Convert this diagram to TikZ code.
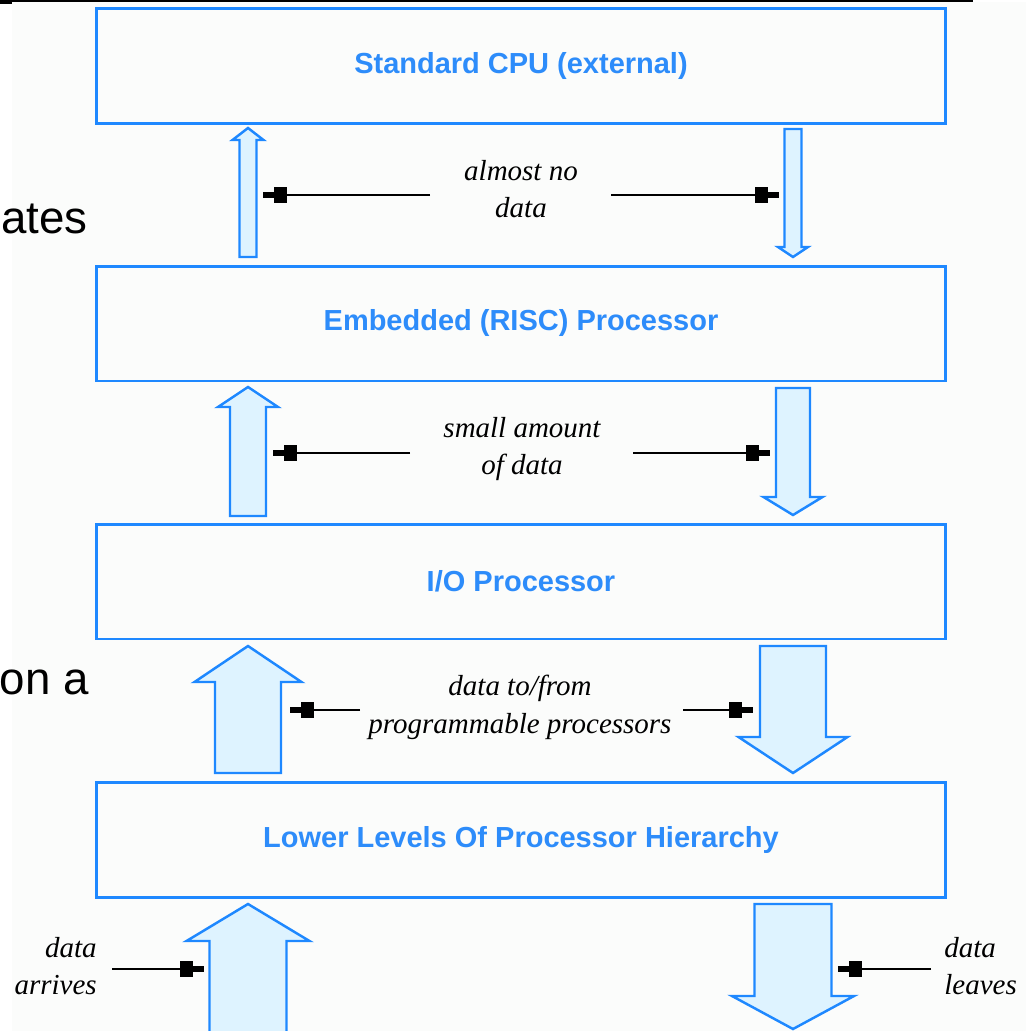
\documentclass[tikz,border=0pt]{standalone}
\usepackage{fontspec}
\setmainfont{Liberation Serif}
\setsansfont{Liberation Sans}
\usepackage{tikz}
\usetikzlibrary{arrows.meta}
\definecolor{boxBlue}{RGB}{30,136,255}
\definecolor{textBlue}{RGB}{45,140,250}
\definecolor{arrowFill}{RGB}{222,243,255}
\definecolor{paperGrey}{RGB}{251,252,251}
\newcommand{\bigflow}[6]{%
  \draw[flow] (#1-#5,#4) -- (#1-#5,#3) -- (#1-#6,#3) -- (#1,#2) -- (#1+#6,#3) -- (#1+#5,#3) -- (#1+#5,#4) -- cycle;}

\begin{document}
\begin{tikzpicture}[x=0.02cm, y=-0.02cm,
    layer/.style={draw=boxBlue, line width=1.7pt, minimum width=17cm, minimum height=2.3cm,
      text=textBlue, font={\sffamily\bfseries\fontsize{16.5}{20}\selectfont}},
    note/.style={font={\itshape\fontsize{16.5}{21.5}\selectfont}, align=center, inner sep=0pt},
    flow/.style={draw=boxBlue, line width=1.4pt, fill=arrowFill, line join=miter},
    feed/.style={line width=1.1pt, -{Rectangle[length=7pt,width=9pt] Rectangle[length=6.5pt,width=3.6pt]}}]
        \useasboundingbox (0,0) rectangle (1026,1031);
        \clip (0,0) rectangle (1026,1031);
        \fill[paperGrey] (12,2) rectangle (1026,1031);

        \node[layer] (cpu) at (521,66) {Standard CPU (external)};
        \node[layer] (risc) at (521,323.5) {Embedded (RISC) Processor};
        \node[layer] (io) at (521,581.5) {I/O Processor};
        \node[layer] (low) at (521,840) {Lower Levels Of Processor Hierarchy};

        \bigflow{248}{128}{140}{257}{8.5}{15.5}
        \bigflow{793}{257}{247}{129}{8.5}{15}
        \bigflow{248}{387}{407}{516}{18}{30}
        \bigflow{793}{515}{497}{388}{17}{29.5}
        \bigflow{248}{646}{682}{773}{33}{53.5}
        \bigflow{793}{773}{737}{646}{33}{54.5}
        \bigflow{248}{904}{941}{1040}{38.5}{61.5}
        \bigflow{793}{1029}{996}{904}{38.5}{61}

        \node[note] (noteA) at (521,189) {almost no\\data};
        \node[note] (noteB) at (522,449) {small amount\\of data};
        \node[note] (noteC) at (520,707) {data to/from\\programmable processors};
        \node[note, anchor=east, align=right] (noteIn) at (97,966) {data\\arrives};
        \node[note, anchor=west, align=left] (noteOut) at (944,966) {data\\leaves};

        \coordinate (tA-l) at (430,195);  \coordinate (hA-l) at (263,195);
        \coordinate (tA-r) at (611,195);  \coordinate (hA-r) at (779,195);
        \coordinate (tB-l) at (410,453);  \coordinate (hB-l) at (273,453);
        \coordinate (tB-r) at (633,453);  \coordinate (hB-r) at (770,453);
        \coordinate (tC-l) at (360,710);  \coordinate (hC-l) at (290,710);
        \coordinate (tC-r) at (683,710);  \coordinate (hC-r) at (753,710);
        \coordinate (tIn) at (112,969);   \coordinate (hIn) at (204,969);
        \coordinate (tOut) at (931,969);  \coordinate (hOut) at (838,969);

        \draw[feed] (tA-l) -- (hA-l);
        \draw[feed] (tA-r) -- (hA-r);
        \draw[feed] (tB-l) -- (hB-l);
        \draw[feed] (tB-r) -- (hB-r);
        \draw[feed] (tC-l) -- (hC-l);
        \draw[feed] (tC-r) -- (hC-r);
        \draw[feed] (tIn) -- (hIn);
        \draw[feed] (tOut) -- (hOut);

        \node[anchor=base east, inner sep=0pt, font={\sffamily\fontsize{26}{28}\selectfont}] (slideA) at (88,233) {ates};
        \node[anchor=base east, inner sep=0pt, font={\sffamily\fontsize{26}{28}\selectfont}] (slideB) at (89,694) {on a};
        \draw[line width=0.9pt] (0,1) -- (973,1);
        \fill (0,0) rectangle (12,4);
      \end{tikzpicture}
\end{document}
